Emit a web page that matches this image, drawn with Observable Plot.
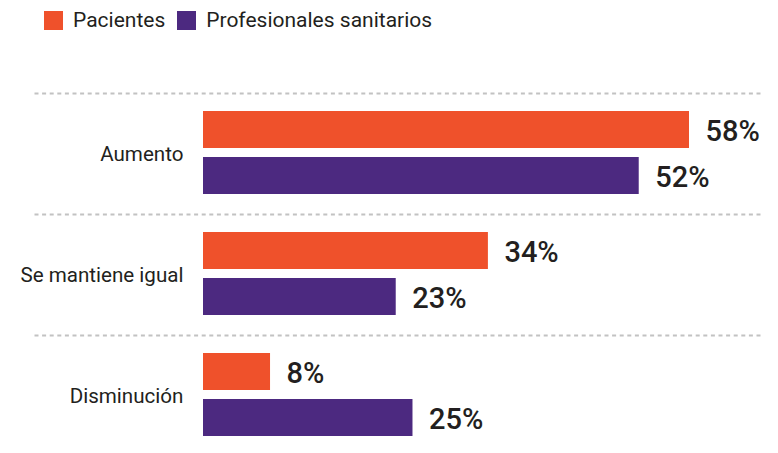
<!DOCTYPE html>
<html>
<head>
<meta charset="utf-8">
<script src="https://cdn.jsdelivr.net/npm/d3@7"></script>
<script src="https://cdn.jsdelivr.net/npm/@observablehq/plot@0.6"></script>
<style>
  html, body { margin: 0; padding: 0; background: #fff; overflow: hidden; }
  body { font-family: Roboto, "Liberation Sans", sans-serif; color: #231f20; }
  #legend { height: 40px; box-sizing: border-box; padding-top: 11px; padding-left: 44px; display: flex; align-items: flex-start; }
  .item { display: flex; align-items: center; height: 19px; margin-right: 12px; }
  .sw { width: 19px; height: 19px; margin-right: 10px; }
  .lab { font-size: 21px; line-height: 19px; color: #231f20; }
  svg { display: block; }
</style>
</head>
<body>
<div id="legend"></div>
<div id="chart"></div>
<script>
const categories = ["Aumento", "Se mantiene igual", "Disminución"];
const series = ["Pacientes", "Profesionales sanitarios"];
const pacientes = [58, 34, 8];
const profesionales = [52, 23, 25];
const colors = ["#EF512B", "#4C2980"];

const data = categories.flatMap((c, i) => [
  {category: c, series: series[0], value: pacientes[i]},
  {category: c, series: series[1], value: profesionales[i]}
]);

const legend = document.getElementById("legend");
series.forEach((s, i) => {
  const it = document.createElement("div");
  it.className = "item";
  it.innerHTML = `<div class="sw" style="background:${colors[i]}"></div><span class="lab">${s}</span>`;
  legend.appendChild(it);
});

const chart = Plot.plot({
  width: 778,
  height: 417,
  marginTop: 52,
  marginBottom: 0,
  marginLeft: 35,
  marginRight: 19,
  style: {fontFamily: "Roboto, 'Liberation Sans', sans-serif", background: "#fff"},
  x: {domain: [0, 58], range: [203, 689], axis: null},
  y: {domain: series, axis: null, paddingInner: 0.2, paddingOuter: 0, insetTop: 17, insetBottom: 20},
  fy: {domain: categories, axis: null, padding: 0},
  color: {domain: series, range: colors},
  marks: [
    Plot.frame({anchor: "top", stroke: "#c2c2c2", strokeWidth: 2, strokeDasharray: "2,5.6"}),
    Plot.barX(data, {x: "value", y: "series", fy: "category", fill: "series"}),
    Plot.text(data, {x: "value", y: "series", fy: "category", text: d => d.value + "%", textAnchor: "start", dx: 16, dy: 2, fontSize: 29, fontWeight: 500, fill: "#231f20"}),
    Plot.text(categories, {fy: d => d, x: d => 0, text: d => d, textAnchor: "end", dx: -20, fontSize: 20.6, fill: "#231f20"})
  ]
});
document.getElementById("chart").appendChild(chart);
</script>
</body>
</html>
